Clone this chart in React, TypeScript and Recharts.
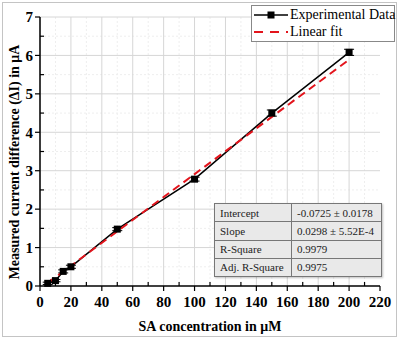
import React from 'react';
import { ComposedChart, Line, XAxis, YAxis, CartesianGrid, ErrorBar } from 'recharts';

const concentrations = [5, 10, 15, 20, 50, 100, 150, 200];
const currentDiff = [0.07, 0.14, 0.38, 0.5, 1.48, 2.78, 4.5, 6.08];
const currentErr = [0.03, 0.03, 0.04, 0.04, 0.04, 0.05, 0.08, 0.08];

const fitX = [5, 200];
const fitY = [0.08, 5.89];

const xTicks = [0, 10, 20, 30, 40, 50, 60, 70, 80, 90, 100, 110, 120, 130, 140, 150, 160, 170, 180, 190, 200, 210, 220];
const yTicks = [0, 0.5, 1, 1.5, 2, 2.5, 3, 3.5, 4, 4.5, 5, 5.5, 6, 6.5, 7];
const xMajor = [0, 20, 40, 60, 80, 100, 120, 140, 160, 180, 200];
const xMinor = [10, 30, 50, 70, 90, 110, 130, 150, 170, 190, 210];
const yMajor = [1, 2, 3, 4, 5, 6, 7];
const yMinor = [0.5, 1.5, 2.5, 3.5, 4.5, 5.5, 6.5];

const fitRows = [
  ['Intercept', '-0.0725 \u00b1 0.0178'],
  ['Slope', '0.0298 \u00b1 5.52E-4'],
  ['R-Square', '0.9979'],
  ['Adj. R-Square', '0.9975'],
];

const expData = concentrations.map((x, i) => ({ x, y: currentDiff[i], err: currentErr[i] }));
const fitData = fitX.map((x, i) => ({ x, fit: fitY[i] }));

const FONT = '"Liberation Serif", "Times New Roman", serif';
const TS = 6;
const TM = 2;

const XTick = (props: any) => {
  const { x, y, payload } = props;
  const v = payload.value;
  const ay = y - TS - TM;
  if (v % 20 !== 0) {
    return <line x1={x} x2={x} y1={ay} y2={ay - 4} stroke="#000" strokeWidth={1.2} />;
  }
  return (
    <g>
      <line x1={x} x2={x} y1={ay} y2={ay + 5} stroke="#000" strokeWidth={1.2} />
      <text x={x} y={ay + 21} textAnchor="middle" fontFamily={FONT} fontWeight="bold" fontSize={15} fill="#000">
        {v}
      </text>
    </g>
  );
};

const YTick = (props: any) => {
  const { x, y, payload } = props;
  const v = payload.value;
  const ax = x + TS + TM;
  if (v % 1 !== 0) {
    return <line x1={ax} x2={ax + 4} y1={y} y2={y} stroke="#000" strokeWidth={1.2} />;
  }
  return (
    <g>
      <line x1={ax} x2={ax - 5} y1={y} y2={y} stroke="#000" strokeWidth={1.2} />
      <text x={ax - 7} y={y} dy="0.35em" textAnchor="end" fontFamily={FONT} fontWeight="bold" fontSize={15} fill="#000">
        {v}
      </text>
    </g>
  );
};

const Square = (props: any) => {
  const { cx, cy } = props;
  if (cx == null || cy == null) return null;
  return <rect x={cx - 3.5} y={cy - 3.5} width={7} height={7} fill="#000" />;
};

export default function App() {
  return (
    <div style={{ position: 'absolute', left: 0, top: 0, width: 399, height: 339, background: '#fff', fontFamily: FONT }}>
      <div style={{ position: 'absolute', left: 2, top: 2, width: 393, height: 333, border: '1px solid #c4c4c4' }} />
      <ComposedChart width={399} height={339} margin={{ top: 17, right: 19, left: 0, bottom: 0 }}>
        <CartesianGrid stroke="#eeeeee" strokeDasharray="2 2" horizontalValues={yMinor} verticalValues={xMinor} />
        <CartesianGrid stroke="#d6d6d6" strokeWidth={1} horizontalValues={yMajor} verticalValues={xMajor} />
        <XAxis
          dataKey="x"
          type="number"
          domain={[0, 220]}
          ticks={xTicks}
          interval={0}
          height={53}
          tickSize={TS}
          tickMargin={TM}
          tickLine={false}
          tick={XTick}
          axisLine={{ stroke: '#000', strokeWidth: 1.5 }}
          allowDataOverflow
        />
        <YAxis
          type="number"
          domain={[0, 7]}
          ticks={yTicks}
          interval={0}
          width={40}
          tickSize={TS}
          tickMargin={TM}
          tickLine={false}
          tick={YTick}
          axisLine={{ stroke: '#000', strokeWidth: 1.5 }}
        />
        <Line
          data={expData}
          dataKey="y"
          stroke="#000"
          strokeWidth={1.5}
          dot={<Square />}
          activeDot={false}
          isAnimationActive={false}
        >
          <ErrorBar dataKey="err" width={5} stroke="#000" strokeWidth={1} direction="y" />
        </Line>
        <Line
          data={fitData}
          dataKey="fit"
          stroke="#e3141c"
          strokeWidth={2}
          strokeDasharray="8 5"
          dot={false}
          activeDot={false}
          isAnimationActive={false}
        />
        <text
          x={14}
          y={162}
          transform="rotate(-90 14 162)"
          textAnchor="middle"
          dominantBaseline="central"
          fontFamily={FONT}
          fontWeight="bold"
          fontSize={14}
          fill="#000"
        >
          Measured current difference (ΔI) in μA
        </text>
        <text x={210} y={326} textAnchor="middle" dominantBaseline="central" fontFamily={FONT} fontWeight="bold" fontSize={14} fill="#000">
          SA concentration in μM
        </text>
      </ComposedChart>

      {/* legend */}
      <div
        style={{
          position: 'absolute',
          left: 251,
          top: 5,
          width: 142,
          height: 35,
          border: '1px solid #888',
          background: '#fff',
          fontSize: 14,
          color: '#000',
          whiteSpace: 'nowrap',
        }}
      >
        <div style={{ position: 'absolute', left: 2, top: 1, height: 16, display: 'flex', alignItems: 'center' }}>
          <svg width={34} height={16}>
            <line x1={0} x2={34} y1={8} y2={8} stroke="#000" strokeWidth={1.5} />
            <rect x={13.5} y={4.5} width={7} height={7} fill="#000" />
          </svg>
          <span style={{ marginLeft: 2 }}>Experimental Data</span>
        </div>
        <div style={{ position: 'absolute', left: 2, top: 18, height: 16, display: 'flex', alignItems: 'center' }}>
          <svg width={34} height={16}>
            <line x1={0} x2={34} y1={8} y2={8} stroke="#e3141c" strokeWidth={2} strokeDasharray="9 7" />
          </svg>
          <span style={{ marginLeft: 2 }}>Linear fit</span>
        </div>
      </div>

      {/* fit table */}
      <table
        style={{
          position: 'absolute',
          left: 214,
          top: 203,
          width: 168,
          height: 74,
          borderCollapse: 'collapse',
          background: '#e9e9e9',
          border: '1px solid #777',
          fontSize: 11,
          color: '#222',
          boxShadow: '1px 1px 2px rgba(0,0,0,0.25)',
        }}
      >
        <tbody>
          {fitRows.map((r, i) => (
            <tr key={i}>
              <td style={{ width: 71, border: '1px solid #777', padding: '0 0 0 5px', height: 17 }}>{r[0]}</td>
              <td style={{ border: '1px solid #777', padding: '0 0 0 5px', height: 17 }}>{r[1]}</td>
            </tr>
          ))}
        </tbody>
      </table>
    </div>
  );
}
